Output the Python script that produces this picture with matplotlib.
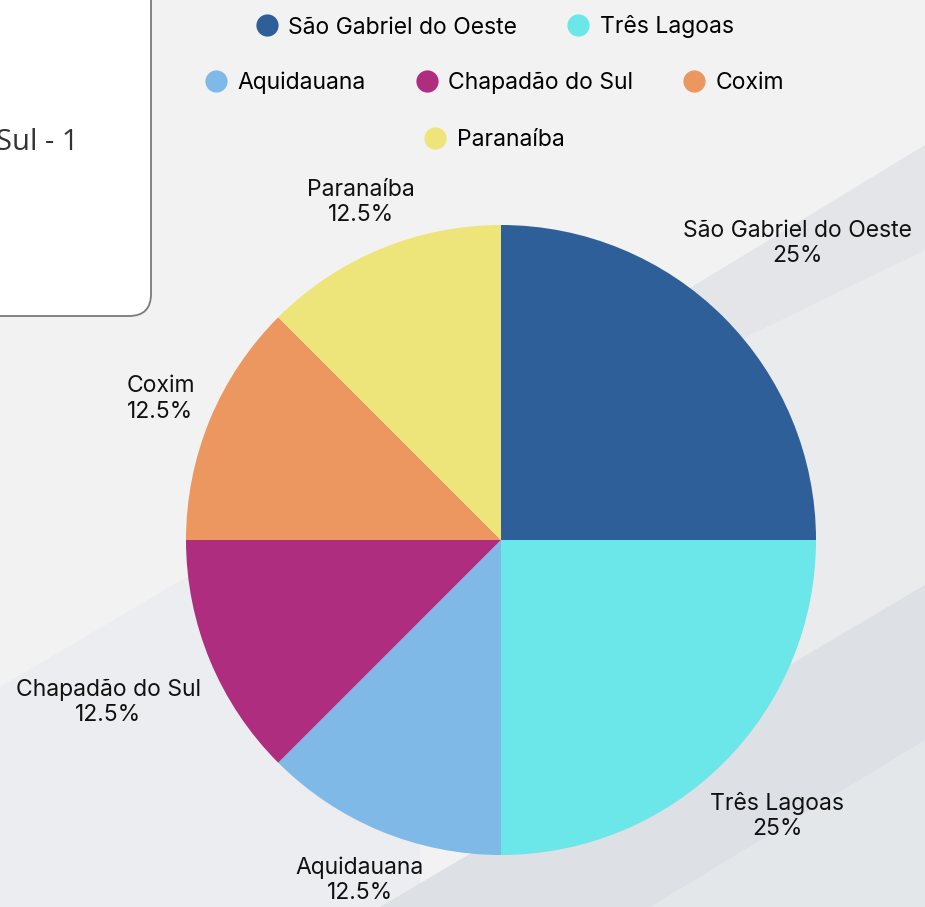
import numpy as np
import matplotlib
matplotlib.use("Agg")
import matplotlib.pyplot as plt
from matplotlib.patches import Polygon, FancyBboxPatch
from matplotlib.lines import Line2D

plt.rcParams['font.family'] = ['Inter', 'DejaVu Sans']

cities = ['São Gabriel do Oeste', 'Três Lagoas', 'Aquidauana',
          'Chapadão do Sul', 'Coxim', 'Paranaíba']
shares = [25, 25, 12.5, 12.5, 12.5, 12.5]
colors = ['#2e5f98', '#6be6e9', '#7fb9e8', '#ae2d7f', '#ec9660', '#ede47a']
legend_rows = [[0, 1], [2, 3, 4], [5]]

# how far each label sits from the centre (pie radius = 1)
label_dist = [1.33, 1.24, 1.17, 1.35, 1.17, 1.16]

W, H = 925, 907
fig = plt.figure(figsize=(W / 100, H / 100), dpi=100)
fig.patch.set_facecolor('#f2f2f3')

# background decoration, in pixel coordinates
bg = fig.add_axes([0, 0, 1, 1])
bg.set_xlim(0, W)
bg.set_ylim(H, 0)
bg.axis('off')
bg.add_patch(Polygon([(0, 687), (185, 578), (420, 578), (420, H), (0, H)],
                     closed=True, color='#ecedf0', lw=0))
bg.add_patch(Polygon([(690, 288), (W, 145), (W, H), (560, H)],
                     closed=True, color='#e3e5e9', lw=0))
bg.add_patch(Polygon([(782, 683), (W, 600), (W, 250), (740, 340)],
                     closed=True, color='#e9ebed', lw=0))
bg.add_patch(Polygon([(380, H), (W, 585), (W, H)],
                     closed=True, color='#dde0e4', lw=0))
bg.add_patch(Polygon([(650, H), (W, 740), (W, H)],
                     closed=True, color='#e4e7ea', lw=0))

# card in upper-left corner
bg.add_patch(FancyBboxPatch((-40, -40), 191, 356,
                            boxstyle='round,pad=0,rounding_size=22',
                            facecolor='white', edgecolor='#7a7a7a', lw=1.3))
bg.text(79, 142, 'Sul - 1', ha='right', va='center', fontsize=21,
        color='#333333', family=['Open Sans', 'DejaVu Sans'])

# pie
cx, cy, r = 501, 540, 315
ax = fig.add_axes([(cx - r) / W, (H - cy - r) / H, 2 * r / W, 2 * r / H])
wedges, _ = ax.pie(shares, colors=colors, startangle=90, counterclock=False,
                   radius=1, wedgeprops=dict(linewidth=0))
ax.set_xlim(-1, 1)
ax.set_ylim(-1, 1)
ax.set_aspect('equal')
ax.axis('off')

for w, name, val, d in zip(wedges, cities, shares, label_dist):
    ang = np.deg2rad((w.theta1 + w.theta2) / 2)
    pct = f'{val:g}%'
    ax.text(d * np.cos(ang), d * np.sin(ang), f'{name}\n{pct}',
            ha='center', va='center', fontsize=16.5, color='#111111',
            linespacing=1.2)

# legend rows
row_y = [1 - 27 / H, 1 - 83 / H, 1 - 140 / H]
for row, y in zip(legend_rows, row_y):
    handles = [Line2D([], [], marker='o', linestyle='none', markersize=16,
                      markerfacecolor=colors[i], markeredgewidth=0)
               for i in row]
    fig.legend(handles, [cities[i] for i in row], loc='center',
               bbox_to_anchor=(495 / W, y), ncol=len(row), frameon=False,
               fontsize=16.5, handlelength=0.9, handletextpad=0.5,
               columnspacing=2.2, borderpad=0)

fig.savefig('out.png', dpi=100, facecolor=fig.get_facecolor())
